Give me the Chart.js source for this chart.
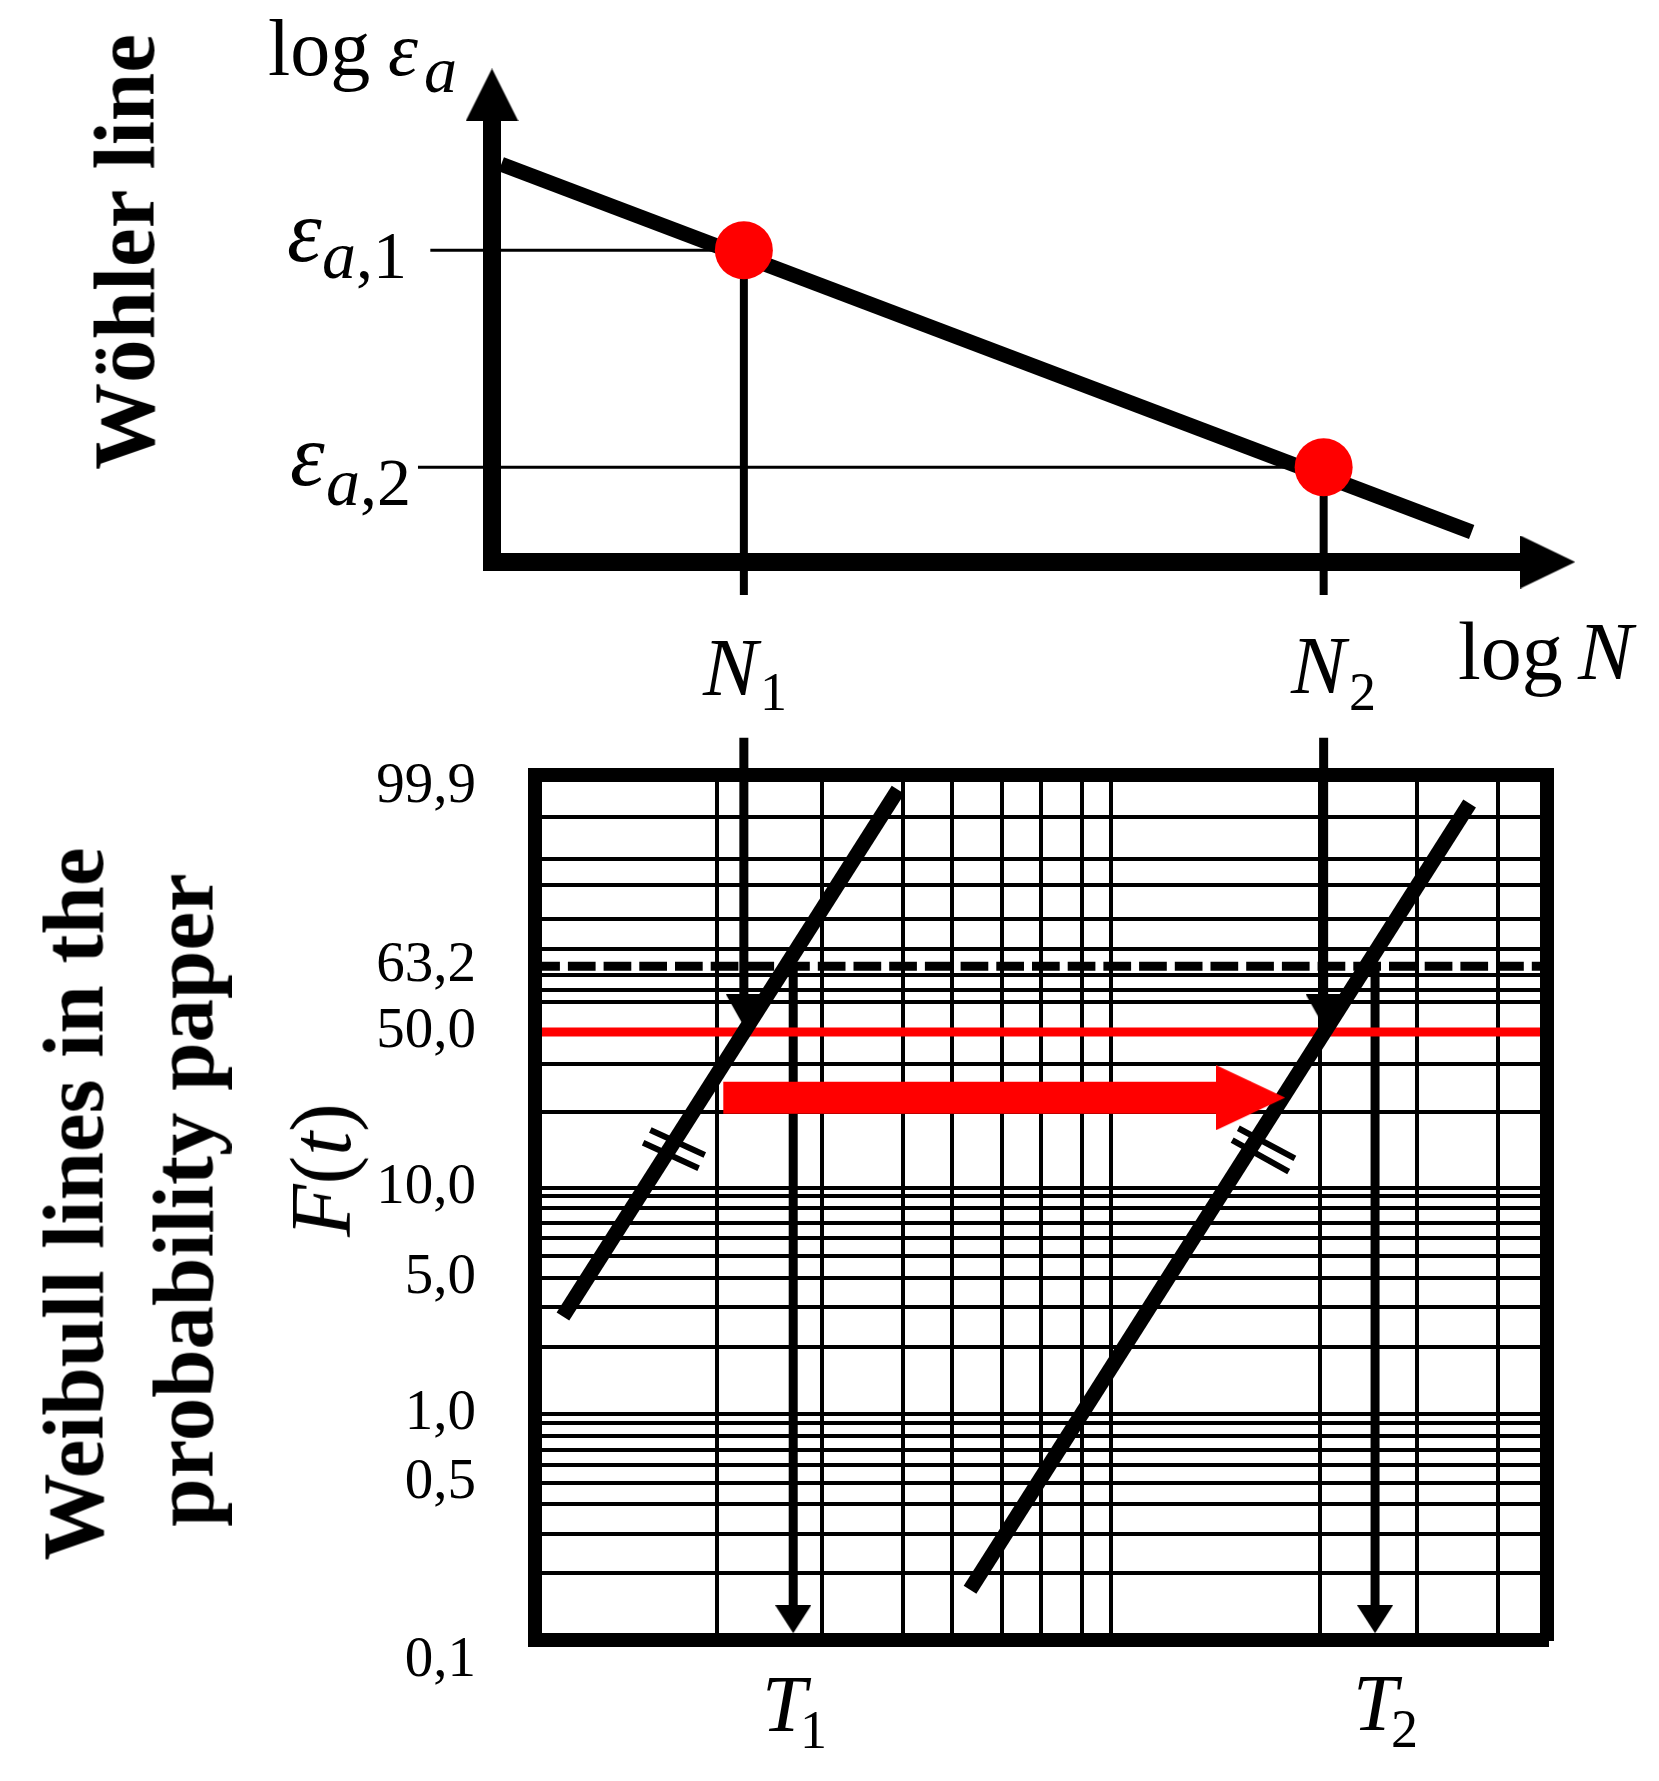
<!DOCTYPE html>
<html>
<head>
<meta charset="UTF-8">
<title>Wöhler line and Weibull lines</title>
<script src="https://cdn.jsdelivr.net/npm/chart.js@4"></script>
<style>
  body { margin: 0; background: #fff; }
  #page { position: relative; width: 1659px; height: 1781px; overflow: hidden;
          font-family: "Liberation Serif", serif; color: #000; }
  canvas { position: absolute; left: 0; top: 0; }
  .lbl { position: absolute; line-height: 1; white-space: nowrap; }
  .it { font-style: italic; }
  .rot { transform: translate(-50%, -50%) rotate(-90deg); }
  .b { font-weight: bold; }
</style>
</head>
<body>
<div id="page">
  <canvas id="woehler" width="1659" height="1781"></canvas>
  <canvas id="weibull" width="1659" height="1781"></canvas>
  <div id="labels"></div>
</div>
<script>
// ---------- data ----------
// upper diagram: log N (x) and log eps_a (y), both in arbitrary units 0..10
const logN = [2.45, 8.09];              // N1, N2
const logEpsA = [7.07, 2.15];           // eps a,1 / eps a,2
const woehlerLogN = [0.09, 9.53];
const woehlerLogEps = [9.02, 0.68];
const epsGuideStart = [-0.6, -0.72];    // thin lines start left of the axis
const dropEnd = -0.75;                  // drop lines end below the axis

// lower diagram: x = log t (same units as log N), y = height on the paper in %
const probLabels = ['99,9', '63,2', '50,0', '10,0', '5,0', '1,0', '0,5', '0,1'];
const probHeight = [100, 77.9, 70.3, 52.3, 41.9, 26.1, 18.2, 0];
const paperRows = [95.2, 90.3, 87.3, 83.4, 79.9, 76.9, 75.2, 73.8, 66.6, 61.0,
                   52.3, 51.3, 50.0, 48.2, 46.5, 44.4, 41.9, 38.5, 33.9,
                   26.1, 25.1, 23.6, 22.0, 20.2, 18.2, 15.7, 12.3, 7.8];
const paperCols = [2.19, 3.21, 4.00, 4.47, 4.96, 5.34, 5.74, 6.02, 8.05, 9.00, 9.79];
const weibull1X = [0.69, 3.95], weibull1Y = [37.4, 98.3];
const weibull2X = [4.65, 9.51], weibull2Y = [5.8, 96.7];
// the "||" marks on both lines: [x1, y1, x2, y2]
const parallelMarks = [[1.54, 58.96, 2.07, 56.07], [1.47, 57.49, 2.01, 54.53],
                       [7.26, 59.16, 7.81, 55.69], [7.20, 57.80, 7.75, 54.14]];
const logT = [2.93, 8.59];              // T1, T2
const charLife = 77.9;                  // 63,2 %
const median = 70.3;                    // 50,0 %
const nArrowFrom = 104.3, nHeadAt = 72.8, tHeadAt = 2.4;
const shiftFrom = 2.25, shiftTo = 7.38, shiftAt = 62.7;

// ---------- layout (px) ----------
const W = 1659, H = 1781;
const upper = {left: 492, right: 1520, top: 121, bottom: 562};
const box = {left: 535, right: 1547, top: 775, bottom: 1640};
const labelRoom = 200;                  // width kept for the F(t) tick labels
const unitPx = (upper.right - upper.left) / 10;   // keeps N1/N2 lined up with the paper
const boxMin = (box.left - upper.left) / unitPx;
const boxMax = (box.right - upper.left) / unitPx;

const RED = '#ff0000', BLACK = '#000000';
Chart.defaults.font.family = '"Liberation Serif", serif';

// arrow heads as little canvases used for pointStyle
function head(len, wid, color, dir) {
  const c = document.createElement('canvas');
  const horiz = dir === 'right';
  c.width = horiz ? len : wid;
  c.height = horiz ? wid : len;
  const g = c.getContext('2d');
  g.fillStyle = color;
  g.beginPath();
  if (dir === 'up') { g.moveTo(wid / 2, 0); g.lineTo(wid, len); g.lineTo(0, len); }
  else if (dir === 'down') { g.moveTo(0, 0); g.lineTo(wid, 0); g.lineTo(wid / 2, len); }
  else { g.moveTo(0, 0); g.lineTo(len, wid / 2); g.lineTo(0, wid); }
  g.closePath();
  g.fill();
  return c;
}

function line(xs, ys, color, width, order, more) {
  return Object.assign({
    data: xs.map((x, i) => ({x: x, y: ys[i]})),
    showLine: true, borderColor: color, borderWidth: width,
    pointRadius: 0, pointHoverRadius: 0, clip: false, order: order
  }, more || {});
}
function pts(xs, ys, style, order, more) {
  return Object.assign({
    data: xs.map((x, i) => ({x: x, y: ys[i]})),
    showLine: false, pointStyle: style, pointRadius: 40, pointHoverRadius: 40,
    pointBorderWidth: 0, clip: false, order: order
  }, more || {});
}

const zeroSize = s => { if (s.isHorizontal()) s.height = 0; else s.width = 0; };
function bareAxis(position, min, max, border) {
  return {
    type: 'linear', position: position, min: min, max: max, bounds: 'data',
    grid: {display: false}, ticks: {display: false},
    border: {display: true, width: border, color: BLACK},
    afterFit: zeroSize
  };
}
const common = {
  responsive: false, animation: false, devicePixelRatio: 1, events: [],
  plugins: {legend: {display: false}, tooltip: {enabled: false}}
};

// ---------- upper chart: Wöhler line ----------
const upperSets = [
  pts(logN, logEpsA, 'circle', 0, {pointRadius: 29, backgroundColor: RED}),
  pts([0], [10.59], head(53, 53, BLACK, 'up'), 0),
  pts([10.27], [0], head(55, 53, BLACK, 'right'), 0),
  line(woehlerLogN, woehlerLogEps, BLACK, 15, 1)
];
logN.forEach((n, i) => {
  upperSets.push(line([n, n], [logEpsA[i], dropEnd], BLACK, 8, 2));
  upperSets.push(line([epsGuideStart[i], n], [logEpsA[i], logEpsA[i]], BLACK, 3, 3));
});

new Chart(document.getElementById('woehler'), {
  type: 'scatter',
  data: {datasets: upperSets},
  options: Object.assign({}, common, {
    layout: {padding: {left: upper.left, right: W - upper.right, top: upper.top, bottom: H - upper.bottom}},
    scales: {x: bareAxis('bottom', 0, 10, 18), y: bareAxis('left', 0, 10, 18)}
  })
});

// ---------- lower chart: Weibull probability paper ----------
const yTicks = Array.from(new Set(paperRows.concat(probHeight))).sort((a, b) => a - b);
const isRow = t => !!t && paperRows.includes(t.value);
function tickText(v) {
  const i = probHeight.indexOf(v);
  if (i < 0) return '';
  // first/last label sit a bit below their edge of the paper
  return (v === 0 || v === 100) ? ['', probLabels[i]] : probLabels[i];
}
function tickLineHeight(t) {
  if (t && t.value === 0) return '43px';
  if (t && t.value === 100) return '25px';
  return 1.2;
}

const lowerSets = [
  line([shiftFrom, shiftTo], [shiftAt, shiftAt], RED, 32, 0),
  pts([shiftTo], [shiftAt], head(69, 65, RED, 'right'), 0),
  line(weibull1X, weibull1Y, BLACK, 15, 1),
  line(weibull2X, weibull2Y, BLACK, 15, 1),
  pts(logN, [nHeadAt, nHeadAt], head(32, 36, BLACK, 'down'), 2),
  pts(logT, [tHeadAt, tHeadAt], head(28, 36, BLACK, 'down'), 2),
  line([boxMin, boxMax], [median, median], RED, 9, 4, {clip: -7}),
  line([boxMin, boxMax], [charLife, charLife], BLACK, 9, 5,
       {clip: -7, borderDash: [27.7, 8], borderDashOffset: 2.8})
];
parallelMarks.forEach(m => lowerSets.push(line([m[0], m[2]], [m[1], m[3]], BLACK, 6, 1)));
logN.forEach(n => lowerSets.push(line([n, n], [nArrowFrom, nHeadAt], BLACK, 9, 3)));
logT.forEach(t => lowerSets.push(line([t, t], [charLife, tHeadAt], BLACK, 9, 6)));

new Chart(document.getElementById('weibull'), {
  type: 'scatter',
  data: {datasets: lowerSets},
  options: Object.assign({}, common, {
    layout: {padding: {left: box.left - labelRoom, right: W - box.right, top: box.top, bottom: H - box.bottom}},
    scales: {
      x: {
        type: 'linear', position: 'bottom', min: boxMin, max: boxMax, bounds: 'data',
        afterBuildTicks: s => { s.ticks = paperCols.map(v => ({value: v})); },
        grid: {color: BLACK, lineWidth: 4, drawTicks: false},
        ticks: {display: false, autoSkip: false},
        border: {width: 14, color: BLACK},
        afterFit: zeroSize
      },
      y: {
        type: 'linear', position: 'left', min: 0, max: 100, bounds: 'data',
        afterBuildTicks: s => { s.ticks = yTicks.map(v => ({value: v})); },
        grid: {
          drawTicks: false,
          color: c => isRow(c.tick) ? BLACK : 'rgba(0,0,0,0)',
          lineWidth: c => isRow(c.tick) ? 4 : 0
        },
        ticks: {
          autoSkip: false, padding: 59, color: BLACK,
          font: c => ({family: '"Liberation Serif", serif', size: 57, lineHeight: tickLineHeight(c.tick)}),
          callback: v => tickText(v)
        },
        border: {width: 14, color: BLACK},
        afterFit: s => { s.width = labelRoom; }
      },
      xTop: bareAxis('top', 0, 1, 14),
      yRight: bareAxis('right', 0, 1, 14)
    }
  })
});

// ---------- text ----------
const labels = document.getElementById('labels');
function put(html, x, baseline, size, cls) {
  const el = document.createElement('div');
  el.className = 'lbl ' + (cls || '');
  el.innerHTML = html;
  el.style.fontSize = size + 'px';
  el.style.left = x + 'px';
  el.style.top = (baseline - 0.8375 * size) + 'px';
  labels.appendChild(el);
}
// rotated text, given where its baseline runs and its centre along the line
function putRot(html, baselineX, cy, size, cls) {
  const el = document.createElement('div');
  el.className = 'lbl rot ' + (cls || '');
  el.innerHTML = html;
  el.style.fontSize = size + 'px';
  el.style.left = (baselineX - 0.3375 * size) + 'px';
  el.style.top = cy + 'px';
  labels.appendChild(el);
}

put('log', 268, 75, 80);
put('ε', 388, 75, 76, 'it');
put('a', 424, 92, 66, 'it');
put('ε', 287, 262, 88, 'it');
put('<i>a</i>,1', 322, 278, 68);
put('ε', 290, 486, 88, 'it');
put('<i>a</i>,2', 326, 505, 68);
put('N', 703, 696, 82, 'it');
put('1', 760, 710, 54);
put('N', 1291, 694, 82, 'it');
put('2', 1349, 710, 54);
put('log', 1458, 680, 82);
put('N', 1578, 680, 82, 'it');
put('T', 762, 1731, 80, 'it');
put('1', 800, 1748, 54);
put('T', 1353, 1730, 80, 'it');
put('2', 1391, 1747, 54);

putRot('Wöhler line', 153, 252, 87, 'b');
putRot('Weibull lines in the', 102, 1204, 87, 'b');
putRot('probability paper', 212, 1200, 87, 'b');
putRot('<i>F</i>(<i>t</i>)', 350, 1170, 86);
</script>
</body>
</html>
